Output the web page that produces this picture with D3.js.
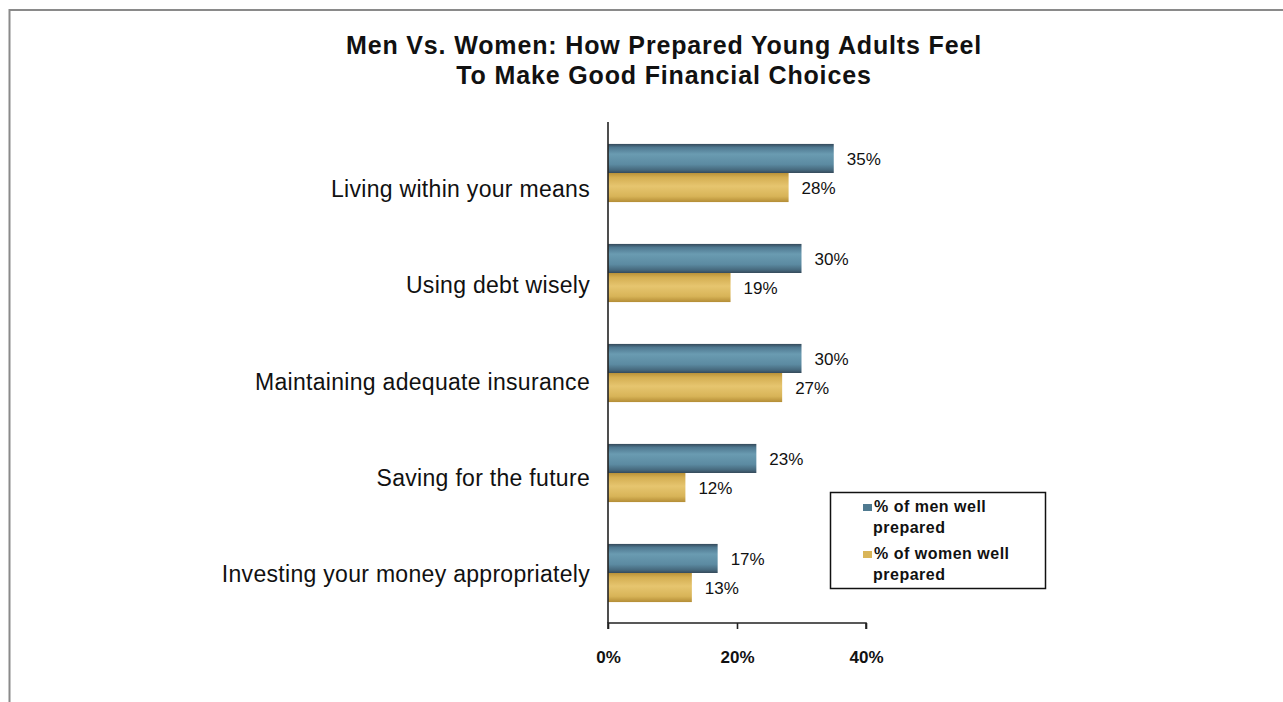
<!DOCTYPE html>
<html>
<head>
<meta charset="utf-8">
<script src="https://cdn.jsdelivr.net/npm/d3@7/dist/d3.min.js"></script>
<style>
  html, body { margin: 0; padding: 0; background: #fff; }
  svg { display: block; }
  text { font-family: "Liberation Sans", Arial, sans-serif; fill: #111; }
</style>
</head>
<body>
<svg id="chart" width="1283" height="702"></svg>
<script>
// Survey categories (top to bottom)
const categories = [
  "Living within your means",
  "Using debt wisely",
  "Maintaining adequate insurance",
  "Saving for the future",
  "Investing your money appropriately"
];
// Percent who feel well prepared
const menValues = [35, 30, 30, 23, 17];
const womenValues = [28, 19, 27, 12, 13];
const seriesNames = ["% of men well prepared", "% of women well prepared"];
const xTicks = [0, 20, 40];
const titleLines = [
  "Men Vs. Women: How Prepared Young Adults Feel",
  "To Make Good Financial Choices"
];

const svg = d3.select("#chart");
const W = 1283, H = 702;

// Outer frame
svg.append("rect")
  .attr("x", 9.5).attr("y", 10)
  .attr("width", W + 20).attr("height", H + 20)
  .attr("fill", "#fff").attr("stroke", "#8a8a8a").attr("stroke-width", 2);

// Gradients for the shaded bars
const defs = svg.append("defs");
function grad(id, stops) {
  const g = defs.append("linearGradient").attr("id", id)
    .attr("x1", 0).attr("y1", 0).attr("x2", 0).attr("y2", 1);
  stops.forEach(([o, c]) => g.append("stop").attr("offset", o).attr("stop-color", c));
}
grad("gMen", [[0, "#34495a"], [0.12, "#4f7890"], [0.35, "#6a9bb1"], [0.7, "#5c8ba2"], [0.9, "#46687c"], [1, "#34495a"]]);
grad("gWomen", [[0, "#b99238"], [0.15, "#d4ae52"], [0.45, "#e6c56f"], [0.8, "#d8b458"], [1, "#b48d36"]]);
const fills = ["url(#gMen)", "url(#gWomen)"];
const swatch = ["#4f7a90", "#d9b558"];

// Plot area
const plot = { left: 608, right: 866, top: 123, bottom: 623 };

const x = d3.scaleLinear().domain([0, 40]).range([plot.left, plot.right]);
const y = d3.scaleBand().domain(categories).range([plot.top, plot.bottom]).padding(0);
const sub = d3.scaleBand().domain([0, 1]).range([0, y.bandwidth()])
  .paddingInner(0).paddingOuter(0.72);
const labelY = d3.scalePoint().domain(categories).range([plot.top + 74, plot.bottom - 41]);

// Title
svg.append("g").selectAll("text").data(titleLines).join("text")
  .attr("x", 664).attr("y", (d, i) => 54 + i * 30)
  .attr("text-anchor", "middle")
  .attr("font-size", 25).attr("font-weight", "bold")
  .attr("letter-spacing", 0.85)
  .text(d => d);

// Bars
const rows = categories.map((c, i) => ({ cat: c, vals: [menValues[i], womenValues[i]] }));
const groups = svg.append("g").selectAll("g").data(rows).join("g")
  .attr("transform", d => `translate(0,${y(d.cat)})`);

groups.selectAll("rect").data(d => d.vals.map((v, k) => ({ v, k }))).join("rect")
  .attr("x", x(0))
  .attr("y", d => sub(d.k))
  .attr("width", d => x(d.v) - x(0))
  .attr("height", sub.bandwidth())
  .attr("fill", d => fills[d.k]);

groups.selectAll("text.val").data(d => d.vals.map((v, k) => ({ v, k }))).join("text")
  .attr("class", "val")
  .attr("x", d => x(d.v) + 13)
  .attr("y", d => sub(d.k) + sub.bandwidth() / 2)
  .attr("dy", "0.36em")
  .attr("font-size", 17)
  .text(d => d.v + "%");

// Category labels
svg.append("g").selectAll("text").data(categories).join("text")
  .attr("x", 590).attr("y", d => labelY(d))
  .attr("text-anchor", "end")
  .attr("font-size", 23)
  .attr("letter-spacing", 0.3)
  .text(d => d);

// Axes
const xAxis = svg.append("g")
  .attr("transform", `translate(0,${plot.bottom})`)
  .call(d3.axisBottom(x).tickValues(xTicks).tickSize(6).tickPadding(22)
    .tickFormat(d => d + "%"));
xAxis.select(".domain").attr("stroke", "#222").attr("stroke-width", 1.6)
  .attr("d", `M${plot.left},6V0H${plot.right}V6`);
xAxis.selectAll(".tick line").attr("stroke", "#222").attr("stroke-width", 1.6);
xAxis.selectAll(".tick text")
  .style("font-family", '"Liberation Sans", Arial, sans-serif')
  .attr("font-size", 17).attr("font-weight", "bold").attr("fill", "#222");

const yAxis = svg.append("g")
  .attr("transform", `translate(${plot.left},0)`)
  .call(d3.axisLeft(y).tickSize(0).tickFormat(""));
yAxis.select(".domain").attr("stroke", "#222").attr("stroke-width", 1.6)
  .attr("d", `M0,${plot.top - 1}V${plot.bottom}`);

// Legend
const legend = svg.append("g").attr("transform", "translate(830,492)");
legend.append("rect").attr("x", 0.5).attr("y", 0.5).attr("width", 215).attr("height", 96)
  .attr("fill", "#fff").attr("stroke", "#111").attr("stroke-width", 1.5);
const legItems = legend.selectAll("g").data(seriesNames).join("g")
  .attr("transform", (d, i) => `translate(0,${i * 47})`);
legItems.append("rect").attr("x", 33).attr("y", 12).attr("width", 9).attr("height", 7)
  .attr("fill", (d, i) => swatch[i]);
legItems.append("text")
  .attr("font-size", 16).attr("font-weight", "bold")
  .attr("letter-spacing", 0.5)
  .selectAll("tspan").data(d => {
    const parts = d.split(" ");
    return [parts.slice(0, -1).join(" "), parts[parts.length - 1]];
  }).join("tspan")
  .attr("x", (d, i) => i === 0 ? 44 : 43)
  .attr("y", (d, i) => 20 + i * 21)
  .text(d => d);
</script>
</body>
</html>
